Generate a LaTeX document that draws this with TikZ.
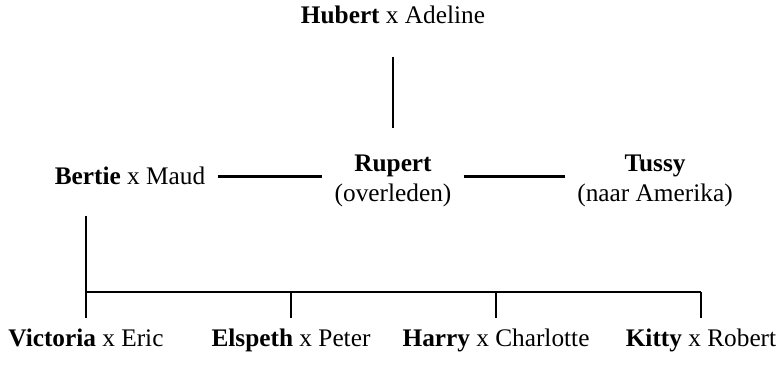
\documentclass[tikz,border=0pt]{standalone}
\usepackage{fontspec}
\setmainfont{Liberation Serif}
\begin{document}
\begin{tikzpicture}[person/.style={inner sep=0pt,font=\fontsize{12}{14.4}\selectfont},tie/.style={line width=1.2pt}]
		\useasboundingbox(0,0) rectangle (13,6.1);
		\node(hubert) at(6.55,5.7)[person,anchor=base]{\textbf{Hubert} x Adeline};
		\node(rupert) at(6.55,3.08)[person,align=center]{\textbf{Rupert}\\(overleden)};
		\node(bertie) at(2.167,3.017)[person,anchor=base]{\textbf{Bertie} x Maud};
		\node(tussy) at(10.917,3.08)[person,align=center]{\textbf{Tussy}\\(naar Amerika)};
		\coordinate(fork) at(1.433,1.233);
		\node(vic) at(1.433,0.317)[person,anchor=base]{\textbf{Victoria} x Eric};
		\node(els) at(4.85,0.317)[person,anchor=base]{\textbf{Elspeth} x Peter};
		\node(har) at(8.267,0.317)[person,anchor=base]{\textbf{Harry} x Charlotte};
		\node(kit) at(11.683,0.317)[person,anchor=base]{\textbf{Kitty} x Robert};
		\draw[tie,shorten <=0.53cm,shorten >=0.45cm](hubert.south)--(rupert.north);
		\draw[tie,shorten <=0.2cm,shorten >=0.2cm](bertie.east)--(bertie.east -| rupert.west);
		\draw[tie,shorten <=0.2cm,shorten >=0.2cm](bertie.east -| rupert.east)--(bertie.east -| tussy.west);
		\draw[tie]([yshift=-0.5cm]bertie.south -| fork)--(fork)--(fork -| kit);
		\foreach \c in {vic,els,har,kit}
			\draw[tie,shorten >=0.19cm](fork -| \c)--(\c.north);
	\end{tikzpicture}
\end{document}
